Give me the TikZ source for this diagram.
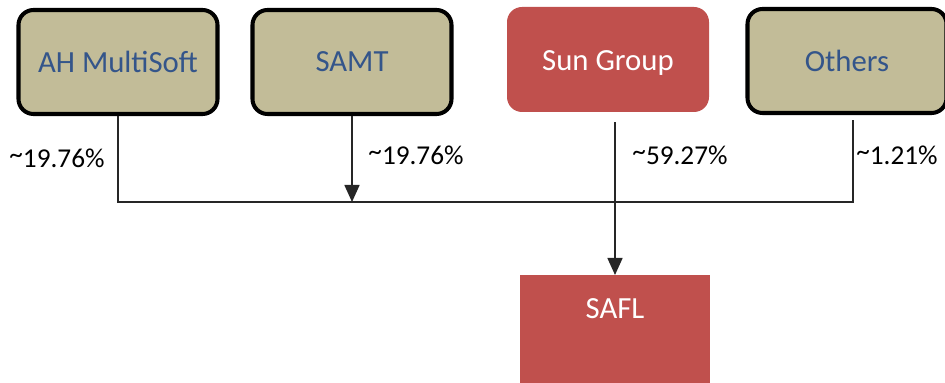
\documentclass[tikz,border=0pt]{standalone}
\usepackage{fontspec}
\setmainfont{Carlito}
\usetikzlibrary{arrows.meta}
\definecolor{khaki}{HTML}{C2BC98}
\definecolor{brick}{HTML}{C0504D}
\definecolor{inkblue}{HTML}{34558A}
\newcommand{\approxsign}{\raisebox{0.3ex}{\textasciitilde}}

\begin{document}
\begin{tikzpicture}
    \useasboundingbox (0,0) rectangle (18.9,-7.66);
    \tikzset{
      holder/.style={rectangle, rounded corners=0.3cm, draw=black, line width=2.3pt, fill=khaki,
        minimum width=3.98cm, minimum height=2.08cm, text=inkblue, font=\fontsize{17.5}{20}\selectfont},
      redholder/.style={rectangle, rounded corners=0.3cm, fill=brick, minimum width=4.04cm,
        minimum height=2.1cm, text=white, font=\fontsize{17.5}{20}\selectfont},
      share/.style={font=\fontsize{15.5}{18}\selectfont},
      wire/.style={draw=black!85, line width=0.9pt},
      arr/.style={wire, -{Triangle[width=0.3cm,length=0.34cm]}}
    }
    % 株主
    \node[holder] (ah) at (2.36, -1.24) {AH MultiSoft};
    \node[holder] (samt) at (7.04, -1.24) {SAMT};
    \node[redholder, text height=0.5cm, text depth=0.05cm] (sun) at (12.16, -1.19) {Sun Group};
    \node[holder] (others) at (16.94, -1.22) {Others};
    % 会社
    \node[rectangle, fill=brick, text=white, font=\fontsize{17.5}{20}\selectfont, anchor=north,
      minimum width=3.8cm, inner sep=0.23cm, text height=0.63cm, text depth=1.07cm] (safl) at (12.3, -5.5) {SAFL};

    % 比率
    \node[share] (p1) at (1.14, -3.16) {\approxsign 19.76\%};
    \node[share] (p2) at (8.32, -3.1) {\approxsign 19.76\%};
    \node[share] (p3) at (13.6, -3.1) {\approxsign 59.27\%};
    \node[share] (p4) at (17.94, -3.1) {\approxsign 1.21\%};

    % エッジ
    \coordinate (jL) at (2.36, -4.04);
    \coordinate (jR) at (17.06, -4.04);
    \draw[wire] (ah.south) -- (jL) -- (jR) -- ([yshift=-0.1cm]jR |- others.south);
    \draw[arr] (samt.south) -- (samt.south |- jL);
    \draw[arr] ([yshift=-0.2cm]sun.south -| safl.north) -- (safl.north);
  \end{tikzpicture}
\end{document}
